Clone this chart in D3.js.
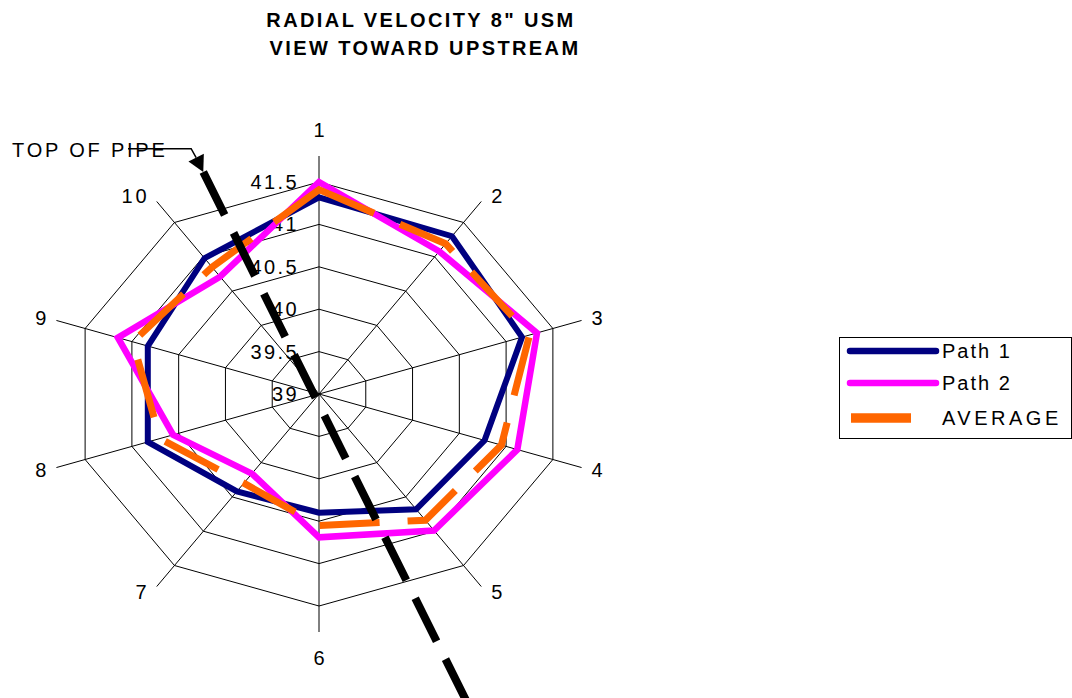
<!DOCTYPE html>
<html>
<head>
<meta charset="utf-8">
<script src="https://cdn.jsdelivr.net/npm/d3@7"></script>
<style>
  body { margin: 0; background: #fff; }
  svg { font-family: "Liberation Sans", Arial, sans-serif; }
</style>
</head>
<body>
<svg id="chart" width="1072" height="698"></svg>
<script>
// values
const categories = ['1', '2', '3', '4', '5', '6', '7', '8', '9', '10'];
const path1   = [41.32, 41.30, 41.17, 40.77, 40.68, 40.40, 40.42, 40.83, 40.83, 40.98];
const path2   = [41.50, 41.08, 41.33, 41.12, 40.99, 40.69, 40.16, 40.56, 41.15, 40.71];
const average = [41.41, 41.19, 41.25, 40.95, 40.84, 40.55, 40.30, 40.70, 40.99, 40.85];
const ringTicks = [39, 39.5, 40, 40.5, 41, 41.5];
const seriesNames = ['Path 1', 'Path 2', 'AVERAGE'];

const svg = d3.select('#chart');
const cx = 319, cy = 394;
const stretch = 1.16; // chart was stretched sideways

let r = d3.scaleLinear().domain([39, 41.5]).range([0, 212]);
let ang = d3.scaleLinear().domain([0, categories.length]).range([0, 2 * Math.PI]);

function pt(i, v) {
  let a = ang(i), rr = r(v);
  return [cx + Math.sin(a) * rr * stretch, cy - Math.cos(a) * rr];
}
function ptDeg(deg, v) {
  let a = deg * Math.PI / 180, rr = r(v);
  return [cx + Math.sin(a) * rr * stretch, cy - Math.cos(a) * rr];
}

// title
let title = svg.append('g').attr('font-weight', 'bold').attr('font-size', 20)
  .attr('letter-spacing', 2.4).attr('text-anchor', 'middle');
title.append('text').attr('x', 421).attr('y', 27).text('RADIAL VELOCITY 8" USM');
title.append('text').attr('x', 425).attr('y', 55).text('VIEW TOWARD UPSTREAM');

// grid rings
let grid = svg.append('g').attr('fill', 'none').attr('stroke', '#000').attr('stroke-width', 1);
ringTicks.slice(1).forEach(v => {
  let pts = categories.map((c, i) => pt(i, v));
  grid.append('path').attr('d', d3.line().curve(d3.curveLinearClosed)(pts));
});
// spokes, with tick extension past the outer ring
const tickEnd = r.invert(238);
categories.forEach((c, i) => {
  let p = pt(i, tickEnd);
  grid.append('line').attr('x1', cx).attr('y1', cy).attr('x2', p[0]).attr('y2', p[1]);
});

// category labels
categories.forEach((c, i) => {
  let a = ang(i), p = pt(i, tickEnd);
  let s = Math.sin(a), co = Math.cos(a);
  let t = svg.append('text').attr('font-size', 20).attr('letter-spacing', 3)
    .attr('dominant-baseline', 'central').text(c);
  if (Math.abs(s) < 0.05) {
    t.attr('text-anchor', 'middle').attr('x', p[0] + 1.5).attr('y', p[1] - Math.sign(co) * 26);
  } else {
    t.attr('text-anchor', s > 0 ? 'start' : 'end')
      .attr('x', s > 0 ? p[0] + 10 : p[0] - 7)
      .attr('y', p[1] - co * 7);
  }
});

// ring value labels
svg.append('g').attr('font-size', 20).attr('letter-spacing', 2.4).attr('text-anchor', 'end')
  .selectAll('text').data(ringTicks).join('text')
  .attr('x', cx - 20).attr('y', d => cy - r(d))
  .attr('dominant-baseline', 'central')
  .text(d => d);

// series
let line = d3.line().x(d => d[0]).y(d => d[1]).curve(d3.curveLinearClosed);
const series = [
  {vals: path1, color: '#000080', w: 6, dash: null},
  {vals: path2, color: '#FF00FF', w: 6.5, dash: null},
  {vals: average, color: '#FF6600', w: 7, dash: '60,28'}
];
series.forEach(s => {
  svg.append('path')
    .attr('d', line(s.vals.map((v, i) => pt(i, v))))
    .attr('fill', 'none').attr('stroke', s.color).attr('stroke-width', s.w)
    .attr('stroke-linejoin', 'miter')
    .attr('stroke-dasharray', s.dash);
});

// "top of pipe" marker
let p0 = ptDeg(-24.2, 41.87), p1 = ptDeg(157.5, 43.06);
svg.append('line').attr('x1', p0[0]).attr('y1', p0[1]).attr('x2', p1[0]).attr('y2', p1[1])
  .attr('stroke', '#000').attr('stroke-width', 8).attr('stroke-dasharray', '48,20');
let dx = p1[0] - p0[0], dy = p1[1] - p0[1], len = Math.hypot(dx, dy);
let ux = dx / len, uy = dy / len;
let base = [p0[0] - ux * 16, p0[1] - uy * 16];
svg.append('path')
  .attr('d', `M${p0[0]},${p0[1]} L${base[0] - uy * 8.6},${base[1] + ux * 8.6} L${base[0] + uy * 8.6},${base[1] - ux * 8.6} Z`)
  .attr('fill', '#000');
svg.append('path')
  .attr('d', `M128,${base[1] - 9} H${base[0] - 5} L${base[0]},${base[1]}`)
  .attr('fill', 'none').attr('stroke', '#000').attr('stroke-width', 1.5);
svg.append('text').attr('x', 12).attr('y', 157).attr('font-size', 20).attr('letter-spacing', 2.8)
  .text('TOP OF PIPE');

// legend
let lg = svg.append('g');
lg.append('rect').attr('x', 839.5).attr('y', 337.5).attr('width', 232).attr('height', 101)
  .attr('fill', '#fff').attr('stroke', '#000').attr('stroke-width', 1);
const legendY = [351, 383, 418];
series.forEach((s, k) => {
  lg.append('line').attr('x1', s.dash ? 851 : 850).attr('x2', s.dash ? 937 : 936)
    .attr('y1', legendY[k]).attr('y2', legendY[k])
    .attr('stroke', s.color).attr('stroke-width', s.dash ? 9.5 : 6.5)
    .attr('stroke-linecap', s.dash ? 'butt' : 'round')
    .attr('stroke-dasharray', s.dash);
  lg.append('text').attr('x', 942).attr('y', legendY[k]).attr('dominant-baseline', 'central')
    .attr('font-size', 20).attr('letter-spacing', k == 2 ? 3.5 : 2)
    .text(seriesNames[k]);
});
</script>
</body>
</html>
